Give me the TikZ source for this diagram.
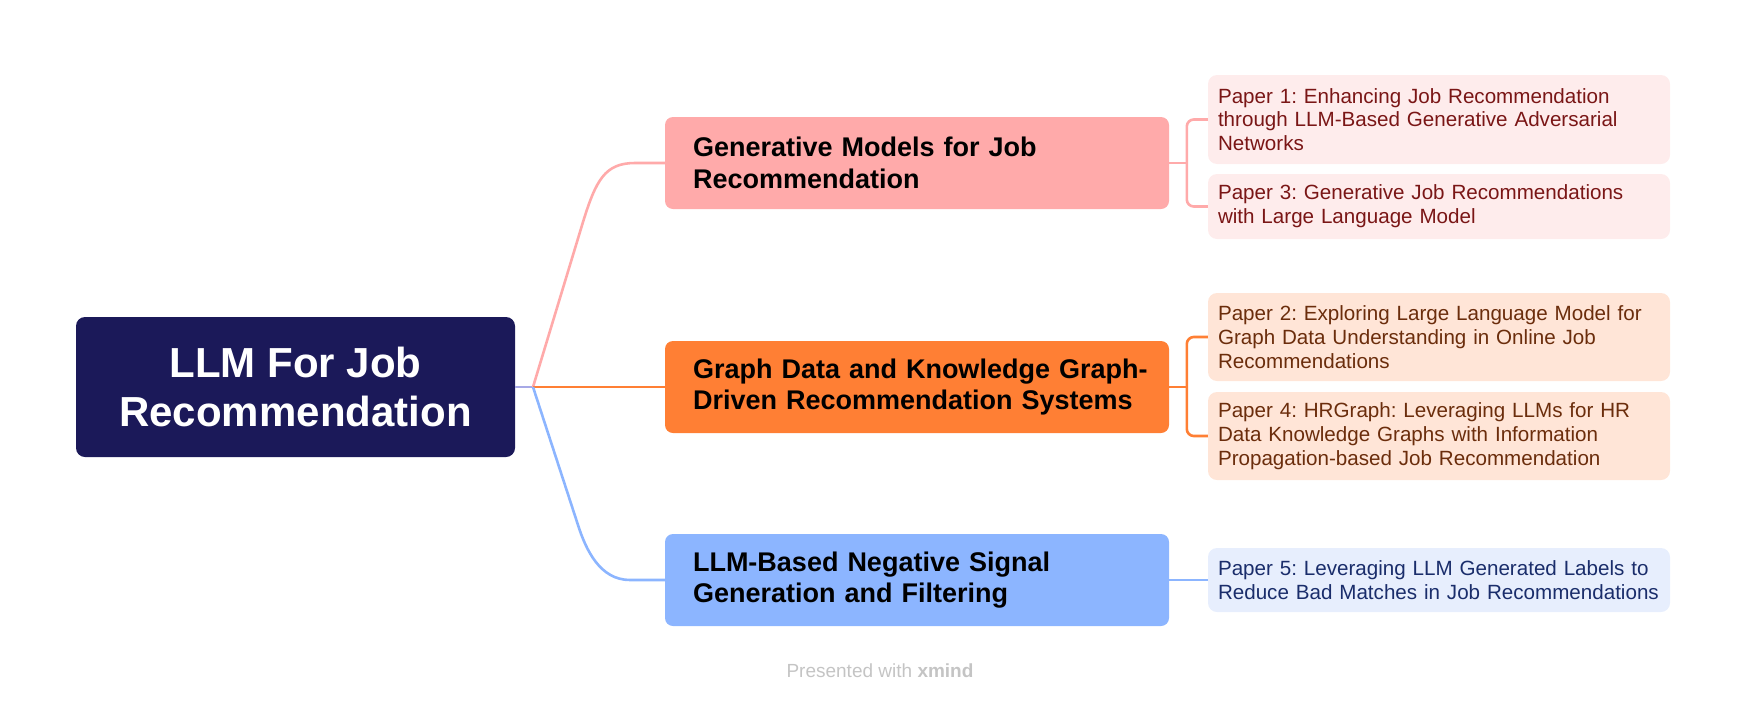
\documentclass[tikz,border=0pt]{standalone}
\usepackage{fontspec}
\setmainfont{Liberation Sans}
\frenchspacing
\definecolor{rootc}{HTML}{1B1959}
\definecolor{pinkc}{HTML}{FFAAAA}
\definecolor{pinkleaf}{HTML}{FEECEC}
\definecolor{pinktext}{HTML}{7A1616}
\definecolor{orangec}{HTML}{FF7F34}
\definecolor{orangeleaf}{HTML}{FFE5D7}
\definecolor{orangetext}{HTML}{6B2D0C}
\definecolor{bluec}{HTML}{8CB5FF}
\definecolor{blueleaf}{HTML}{E7EEFD}
\definecolor{bluetext}{HTML}{1A2D6B}
\definecolor{joinc}{HTML}{A7A9E6}
\definecolor{wmark}{HTML}{C4C4C4}
\begin{document}
\begin{tikzpicture}[x=1pt,y=-1pt,
  rootbox/.style={rectangle, rounded corners=9pt, fill=rootc, text=white,
    font=\fontsize{42}{49}\selectfont\bfseries, align=center,
    minimum width=439pt, minimum height=140pt, inner sep=0pt},
  branchbox/.style={rectangle, rounded corners=8pt, text=black,
    font=\fontsize{27}{31.7}\selectfont\bfseries, align=left,
    text width=448pt, inner xsep=28pt, inner ysep=0pt, minimum height=92pt},
  leafbox/.style={rectangle, rounded corners=9pt,
    font=\fontsize{20.6}{23.8}\selectfont, align=left,
    text width=442pt, inner xsep=10pt, inner ysep=0pt},
  conn/.style={line width=2.6pt},
]
\useasboundingbox (0,0) rectangle (1746,702);

% root
\node[rootbox] (root) at (295.5,387) {LLM For Job\\Recommendation};

% branches
\node[branchbox, fill=pinkc] (b1) at (917,163)
  {\mbox{Generative Models for Job}\\\mbox{Recommendation}};
\node[branchbox, fill=orangec] (b2) at (917,387)
  {\mbox{Graph Data and Knowledge Graph-}\\\mbox{Driven Recommendation Systems}};
\node[branchbox, fill=bluec] (b3) at (917,580)
  {\mbox{LLM-Based Negative Signal}\\\mbox{Generation and Filtering}};

% leaves
\node[leafbox, fill=pinkleaf, text=pinktext, minimum height=89pt] (p1) at (1439,119.5)
  {\mbox{Paper 1: Enhancing Job Recommendation}\\\mbox{through LLM-Based Generative Adversarial}\\\mbox{Networks}};
\node[leafbox, fill=pinkleaf, text=pinktext, minimum height=65pt] (p3) at (1439,206.5)
  {\mbox{Paper 3: Generative Job Recommendations}\\\mbox{with Large Language Model}};
\node[leafbox, fill=orangeleaf, text=orangetext, minimum height=88pt] (p2) at (1439,337)
  {\mbox{Paper 2: Exploring Large Language Model for}\\\mbox{Graph Data Understanding in Online Job}\\\mbox{Recommendations}};
\node[leafbox, fill=orangeleaf, text=orangetext, minimum height=88pt] (p4) at (1439,436)
  {\mbox{Paper 4: HRGraph: Leveraging LLMs for HR}\\\mbox{Data Knowledge Graphs with Information}\\\mbox{Propagation-based Job Recommendation}};
\node[leafbox, fill=blueleaf, text=bluetext, minimum height=64pt] (p5) at (1439,580)
  {\mbox{Paper 5: Leveraging LLM Generated Labels to}\\\mbox{Reduce Bad Matches in Job Recommendations}};

% root to branches
\coordinate (j) at (533,387);
\draw[conn, joinc] (root.east) -- (j);
\draw[conn, pinkc] (j) -- (583,222) .. controls (596,180) and (605,163) .. (635,163) -- (b1.west);
\draw[conn, orangec] (j) -- (b2.west);
\draw[conn, bluec] (j) -- (578,525) .. controls (586,550) and (600,580) .. (630,580) -- (b3.west);

% branches to leaves
\draw[conn, pinkc] (b1.east) -- (1187,163);
\draw[conn, pinkc, rounded corners=7pt] (p1.west) -- ++(-21,0) |- (p3.west);
\draw[conn, orangec] (b2.east) -- (1187,387);
\draw[conn, orangec, rounded corners=7pt] (p2.west) -- ++(-21,0) |- (p4.west);
\draw[conn, bluec] (b3.east) -- (p5.west);

% watermark
\node[text=wmark, font=\fontsize{19}{22}\selectfont, inner sep=0pt] (wm) at (880,671)
  {Presented with {\bfseries xmind}};
\end{tikzpicture}
\end{document}
